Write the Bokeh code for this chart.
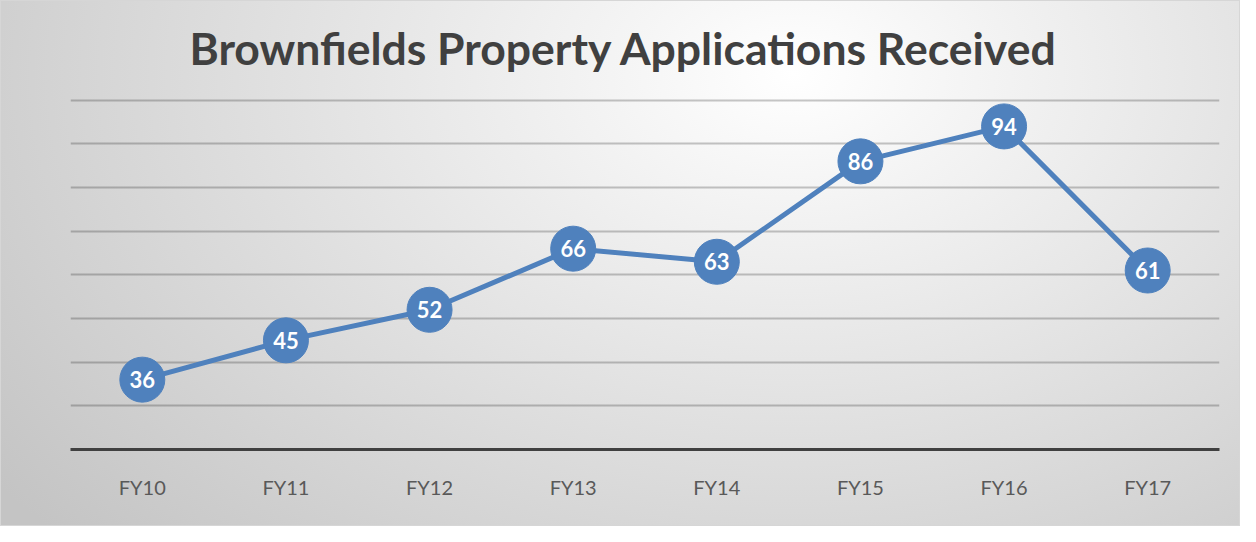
from bokeh.plotting import figure
from bokeh.models import FactorRange, Range1d, FixedTicker, ColumnDataSource
from bokeh.core.properties import value
from bokeh.embed import file_html
from bokeh.resources import INLINE

categories = ["FY10", "FY11", "FY12", "FY13", "FY14", "FY15", "FY16", "FY17"]
applications = [36, 45, 52, 66, 63, 86, 94, 61]
grid_ticks = [30, 40, 50, 60, 70, 80, 90, 100]
title_text = "Brownfields Property Applications Received"

src = ColumnDataSource(data=dict(
    x=categories,
    y=applications,
    label=[str(v) for v in applications],
))

BLUE = "#4f81bd"

p = figure(
    width=1240, height=526,
    x_range=FactorRange(*categories, range_padding=0),
    y_range=Range1d(20, 102),
    output_backend="svg", toolbar_location=None,
    min_border_left=70, min_border_right=21,
    min_border_top=91, min_border_bottom=77,
    border_fill_color=None, background_fill_color=None,
    outline_line_color=None,
)
p.styles = {
    "background": "radial-gradient(ellipse 1000px 680px at 64% 14%, #ffffff 0%, #f3f3f3 20%, #c4c4c4 100%)",
    "outline": "1px solid #d6d6d6",
    "outline-offset": "-1px",
}

p.title.text = title_text
p.title.text_font = "Lato"
p.title.text_font_style = "bold"
p.title.text_font_size = "44.5px"
p.title.text_color = "#404040"
p.title.align = "left"
p.title.offset = 119
p.title.standoff = 35

p.yaxis.visible = False
p.ygrid.ticker = FixedTicker(ticks=grid_ticks)
p.ygrid.grid_line_color = "black"
p.ygrid.grid_line_alpha = 0.22
p.ygrid.grid_line_width = 2
p.xgrid.visible = False

xa = p.xaxis[0]
xa.axis_line_color = "#404040"
xa.axis_line_width = 3
xa.major_tick_line_color = None
xa.minor_tick_line_color = None
xa.major_label_text_font = "Lato"
xa.major_label_text_font_size = "20px"
xa.major_label_text_color = "#595959"
xa.major_label_standoff = 19

p.line("x", "y", source=src, line_color=BLUE, line_width=5)
p.scatter("x", "y", source=src, size=45, fill_color=BLUE, line_color=BLUE, line_width=1)
p.text("x", "y", text="label", source=src, text_align="center", text_baseline="middle",
       text_color="white", text_font=value("Lato"), text_font_style="bold",
       text_font_size="22px")

open("out.html", "w").write(file_html(p, INLINE))
